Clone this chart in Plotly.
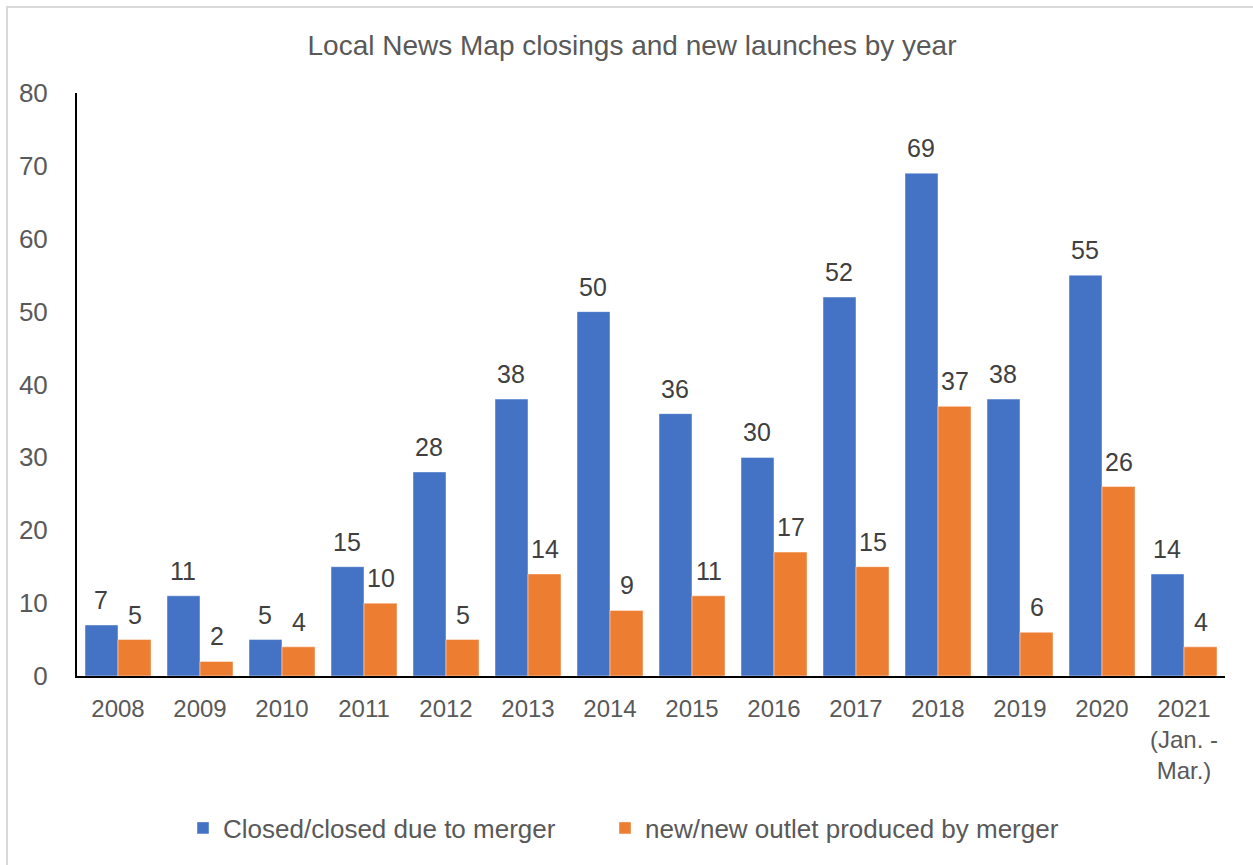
import plotly.graph_objects as go

categories = ["2008", "2009", "2010", "2011", "2012", "2013", "2014", "2015",
              "2016", "2017", "2018", "2019", "2020", "2021<br>(Jan. -<br>Mar.)"]
closed = [7, 11, 5, 15, 28, 38, 50, 36, 30, 52, 69, 38, 55, 14]
new = [5, 2, 4, 10, 5, 14, 9, 11, 17, 15, 37, 6, 26, 4]

BLUE = "#4472C4"
ORANGE = "#ED7D31"
FONT = "Liberation Sans, Arial, sans-serif"

W, H = 1253, 865
L, R, T, B = 77, 28, 93, 189
PW = W - L - R
PH = H - T - B

fig = go.Figure()
fig.add_trace(go.Bar(x=categories, y=closed, name="Closed/closed due to merger",
                     legend="legend",
                     marker=dict(color=BLUE, line=dict(color="rgba(255,255,255,0.6)", width=0.75))))
fig.add_trace(go.Bar(x=categories, y=new, name="new/new outlet produced by merger",
                     legend="legend2",
                     marker=dict(color=ORANGE, line=dict(color="rgba(255,255,255,0.6)", width=0.75))))

bar_px = PW / len(categories) * (1 - 0.195) / 2
annotations = []
for series, sign in ((closed, -1), (new, 1)):
    for i, v in enumerate(series):
        annotations.append(dict(x=i, y=v, xref="x", yref="y", text=str(v), showarrow=False,
                                xanchor="center", yanchor="bottom", xshift=sign * bar_px / 2,
                                yshift=9, font=dict(family=FONT, size=25, color="#404040")))

legend_common = dict(orientation="h", xanchor="left", y=(676 - 828) / PH, yanchor="middle",
                     font=dict(family=FONT, size=26, color="#595959"),
                     itemclick=False, bgcolor="rgba(0,0,0,0)")

fig.update_layout(
    width=W, height=H,
    margin=dict(l=L, r=R, t=T, b=B, pad=0),
    paper_bgcolor="white", plot_bgcolor="white",
    barmode="group", bargap=0.195, bargroupgap=0,
    title=dict(text="Local News Map closings and new launches by year",
               x=632 / W, xref="container", xanchor="center",
               y=1 - 45 / H, yref="container", yanchor="middle",
               font=dict(family=FONT, size=28, color="#595959")),
    showlegend=True,
    legend=dict(x=(183 - L) / PW, **legend_common),
    legend2=dict(x=(605 - L) / PW, **legend_common),
    annotations=annotations,
    shapes=[dict(type="rect", xref="paper", yref="paper",
                 x0=(7 - L) / PW, x1=1.2, y0=-0.5, y1=1 + (T - 7) / PH,
                 line=dict(color="#D9D9D9", width=2), layer="below")],
)
fig.update_xaxes(type="category", range=[-0.5, len(categories) - 0.5],
                 showline=True, linecolor="black", linewidth=1.5, ticks="",
                 tickfont=dict(family=FONT, size=24, color="#595959"),
                 showgrid=False, ticklabelstandoff=10)
fig.update_yaxes(range=[0, 80], dtick=10, showline=True, linecolor="black", linewidth=2,
                 ticks="", showgrid=False, zeroline=False,
                 tickfont=dict(family=FONT, size=26, color="#595959"),
                 ticklabelstandoff=22)

fig.write_html("out.html")
